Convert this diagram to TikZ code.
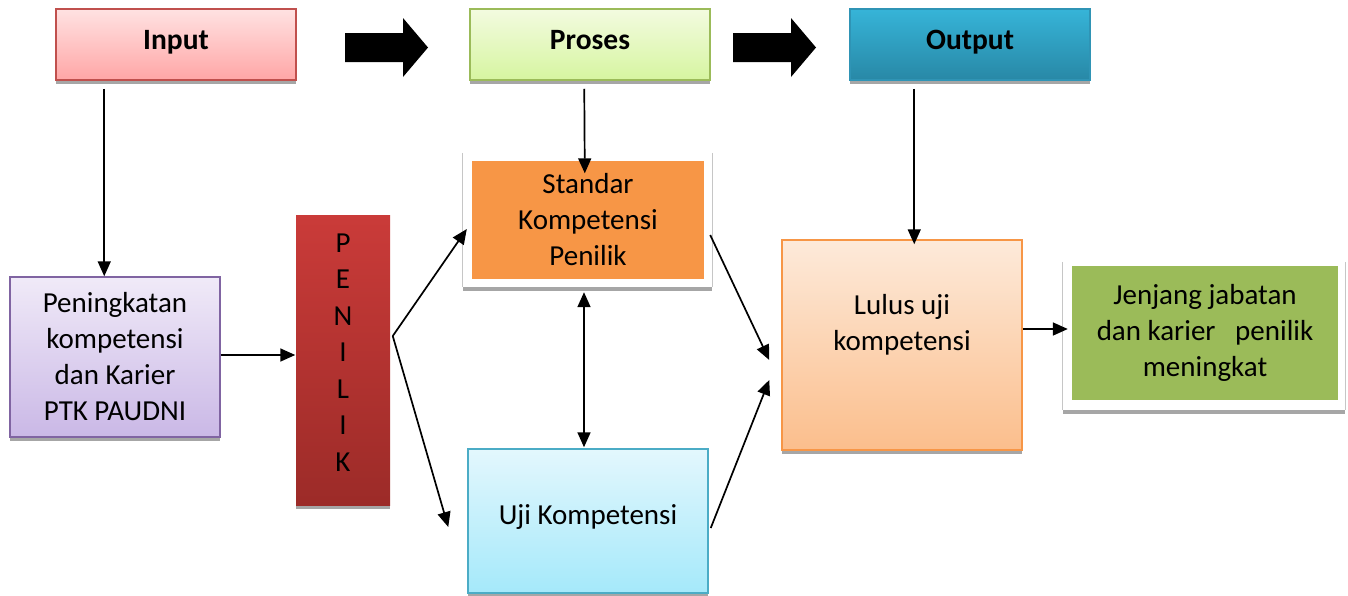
\documentclass[tikz,border=0pt]{standalone}
\usepackage{fontspec}
\setmainfont{Carlito}
\usetikzlibrary{arrows.meta,calc,shadows}
\definecolor{shd}{HTML}{A6A6A6}
\begin{document}
\begin{tikzpicture}[x=1pt,y=-1pt,
  every node/.style={font=\fontsize{29}{36}\selectfont, inner sep=0pt, align=center},
  box/.style={rectangle, line width=1.5pt, drop shadow={shadow xshift=0pt, shadow yshift=-4pt, fill=shd, opacity=1}},
  head/.style={box, font=\fontsize{29.5}{32}\selectfont\bfseries, minimum width=240pt, minimum height=71pt, text height=19pt, text depth=9pt},
  frame/.style={rectangle, fill=white, drop shadow={shadow xshift=0pt, shadow yshift=-4pt, fill=shd, opacity=1}},
  arr/.style={line width=1.7pt, -{Triangle[length=15pt,width=13pt]}},
  darr/.style={line width=1.7pt, {Triangle[length=15pt,width=13pt]}-{Triangle[length=15pt,width=13pt]}},
  blk/.style={fill=black}]
\useasboundingbox (0,0) rectangle (1348,595);
% header boxes
\node[head, draw={rgb,255:red,192;green,80;blue,77}, top color={rgb,255:red,255;green,226;blue,226}, bottom color={rgb,255:red,255;green,166;blue,166}] (input) at (176,44.5) {Input};
\node[head, draw={rgb,255:red,155;green,187;blue,89}, top color={rgb,255:red,243;green,251;blue,224}, bottom color={rgb,255:red,214;green,245;blue,160}] (proses) at (590,44.5) {Proses};
\node[head, draw={rgb,255:red,47;green,148;blue,181}, top color={rgb,255:red,54;green,180;blue,216}, bottom color={rgb,255:red,40;green,136;blue,166}] (output) at (970,44.5) {Output};
% block arrows
\fill[blk] (345,33) -- (403,33) -- (403,18) -- (428,47.5) -- (403,77) -- (403,62) -- (345,62) -- cycle;
\fill[blk] (733,33) -- (791,33) -- (791,18) -- (816,47.5) -- (791,77) -- (791,62) -- (733,62) -- cycle;
% lower boxes
\node[box, draw={rgb,255:red,128;green,100;blue,162}, top color={rgb,255:red,240;green,234;blue,248}, bottom color={rgb,255:red,202;green,184;blue,230}, minimum width=210pt, minimum height=160pt] (pen) at (115,357) {Peningkatan\\kompetensi\\dan Karier\\PTK PAUDNI};
\node[box, draw=none, top color={rgb,255:red,202;green,59;blue,57}, bottom color={rgb,255:red,156;green,43;blue,40}, minimum width=94pt, minimum height=290pt] (penilik) at (343,360) {};
\node[font=\fontsize{29}{36.5}\selectfont] (penlabel) at (343,352.5) {P\\E\\N\\I\\L\\I\\K};
\node[frame, minimum width=249pt, minimum height=134pt] (stdframe) at (587.5,220) {};
\draw[gray!45, line width=1pt] (stdframe.north west) -- (stdframe.south west) (stdframe.north east) -- (stdframe.south east);
\node[rectangle, fill={rgb,255:red,247;green,150;blue,70}, minimum width=232pt, minimum height=118pt] (std) at (588,219.5) {Standar\\Kompetensi\\Penilik};
\node[box, draw={rgb,255:red,75;green,172;blue,198}, top color={rgb,255:red,227;green,247;blue,253}, bottom color={rgb,255:red,165;green,233;blue,250}, minimum width=240pt, minimum height=144pt] (uji) at (588,521) {};
\node (ujilabel) at (588,517) {Uji Kompetensi};
\node[box, draw={rgb,255:red,247;green,150;blue,70}, top color={rgb,255:red,253;green,234;blue,218}, bottom color={rgb,255:red,251;green,190;blue,140}, minimum width=240pt, minimum height=210pt] (lulus) at (902,345) {};
\node (luluslabel) at (902,325) {Lulus uji\\kompetensi};
\node[frame, minimum width=282pt, minimum height=148pt] (jenframe) at (1204,336) {};
\draw[gray!45, line width=1pt] (jenframe.north west) -- (jenframe.south west) (jenframe.north east) -- (jenframe.south east);
\node[rectangle, fill={rgb,255:red,155;green,187;blue,89}, minimum width=266pt, minimum height=134pt] (jen) at (1205,333) {Jenjang jabatan\\dan karier \ \ penilik\\meningkat};
% connectors
\draw[arr] ($(input.south west)+(49,8)$) -- ($(pen.north west)+(95,0)$);
\draw[arr] ($(proses.south west)+(115,8)$) -- ($(std.north west)+(113,13)$);
\draw[arr] ($(output.south west)+(65,8)$) -- ($(lulus.north west)+(133,5)$);
\draw[arr] ($(pen.east)+(0,-2)$) -- ($(pen.east -| penilik.west)+(0,-2)$);
\draw[arr] ($(penilik.east)+(2,-24)$) -- ($(stdframe.west)+(4,9)$);
\draw[arr] ($(penilik.east)+(2,-24)$) -- ($(uji.west)+(-19,6)$);
\draw[darr] ($(stdframe.south)+(-3.5,5)$) -- ($(uji.north)+(-4,-1)$);
\draw[arr] ($(stdframe.east)+(-2,15)$) -- ($(lulus.west)+(-12,15)$);
\draw[arr] ($(uji.east)+(2,7)$) -- ($(lulus.west)+(-12,35)$);
\draw[arr] ($(lulus.east)+(0,-16)$) -- ($(jenframe.west)+(5,-7)$);
\end{tikzpicture}
\end{document}
